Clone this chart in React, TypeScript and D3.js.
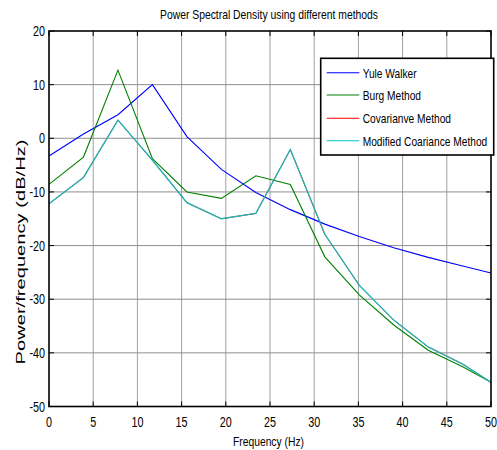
import React from "react";
import * as d3 from "d3";

const freqs = [0, 3.9, 7.8, 11.7, 15.6, 19.5, 23.4, 27.3, 31.2, 35.1, 39.0, 42.9, 46.8, 50];
const yuleWalker = [-3.3, 0.8, 4.4, 10.0, 0.3, -5.8, -10.1, -13.3, -16.0, -18.3, -20.4, -22.2, -23.8, -25.1];
const burg = [-8.6, -3.5, 12.7, -3.8, -10.0, -11.2, -7.0, -8.6, -22.1, -29.2, -34.8, -39.5, -42.6, -45.5];
const covariance = [-12.2, -7.3, 3.4, -4.1, -12.0, -15.0, -14.0, -2.1, -17.9, -27.4, -33.9, -38.9, -42.1, -45.5];
const modCovariance = [-12.2, -7.3, 3.4, -4.1, -12.0, -15.0, -14.0, -2.1, -17.9, -27.4, -33.9, -38.9, -42.1, -45.5];

const xTicks = [0, 5, 10, 15, 20, 25, 30, 35, 40, 45, 50];
const yTicks = [20, 10, 0, -10, -20, -30, -40, -50];
const legendLabels = ["Yule Walker", "Burg Method", "Covarianve Method", "Modified Coariance Method"];

const COLORS = ["#0000ff", "#008000", "#ff0000", "#1fb5b5"];

export default function App() {
  const W = 497, H = 450;
  const L = 49, R = 491, T = 31, B = 406.5;
  const x = d3.scaleLinear().domain([0, 50]).range([L, R]);
  const y = d3.scaleLinear().domain([-50, 20]).range([B, T]);
  const line = d3.line<number>().x((_, i) => x(freqs[i])).y((d) => y(d));
  const series = [yuleWalker, burg, covariance, modCovariance];
  const widths = [1.1, 1.1, 1.0, 1.3];
  const font = "'Liberation Sans', Arial, sans-serif";
  const sx = 0.77;

  return (
    <svg width={W} height={H} style={{ position: "absolute", left: 0, top: 0, background: "#fff" }}>
      <rect x={0} y={0} width={W} height={H} fill="#fff" />
      {/* grid */}
      {xTicks.slice(1, -1).map((t) => (
        <line key={"gx" + t} x1={x(t)} x2={x(t)} y1={T} y2={B} stroke="#a0a0a0" strokeWidth={1} />
      ))}
      {yTicks.slice(1, -1).map((t) => (
        <line key={"gy" + t} x1={L} x2={R} y1={y(t)} y2={y(t)} stroke="#909090" strokeWidth={1} />
      ))}
      {/* ticks */}
      {xTicks.map((t) => (
        <g key={"tx" + t}>
          <line x1={x(t)} x2={x(t)} y1={B} y2={B - 5} stroke="#000" />
          <line x1={x(t)} x2={x(t)} y1={T} y2={T + 5} stroke="#000" />
        </g>
      ))}
      {yTicks.map((t) => (
        <g key={"ty" + t}>
          <line x1={L} x2={L + 5} y1={y(t)} y2={y(t)} stroke="#000" />
          <line x1={R} x2={R - 5} y1={y(t)} y2={y(t)} stroke="#000" />
        </g>
      ))}
      {/* series */}
      {series.map((s, i) => (
        <path key={"s" + i} d={line(s) || ""} fill="none" stroke={COLORS[i]} strokeWidth={widths[i]} />
      ))}
      {/* frame */}
      <rect x={L} y={T} width={R - L} height={B - T} fill="none" stroke="#000" strokeWidth={1.6} />
      {/* tick labels */}
      {xTicks.map((t) => (
        <text key={"lx" + t} transform={`translate(${x(t)},427) scale(${sx},1)`} textAnchor="middle"
          fontFamily={font} fontSize={14} fill="#000">{t}</text>
      ))}
      {yTicks.map((t) => (
        <text key={"ly" + t} transform={`translate(45,${y(t) + 5}) scale(${sx},1)`} textAnchor="end"
          fontFamily={font} fontSize={14} fill="#000">{t}</text>
      ))}
      {/* title & axis labels */}
      <text x={269} y={19} textAnchor="middle" fontFamily={font} fontSize={13.5} textLength={218}
        lengthAdjust="spacingAndGlyphs" fill="#000">Power Spectral Density using different methods</text>
      <text x={268.5} y={446} textAnchor="middle" fontFamily={font} fontSize={13.5} textLength={71}
        lengthAdjust="spacingAndGlyphs" fill="#000">Frequency (Hz)</text>
      <text transform={`translate(25,252) scale(0.85,1) rotate(-90)`} textAnchor="middle" fontFamily={font}
        fontSize={14} textLength={225} lengthAdjust="spacingAndGlyphs" fill="#000">Power/frequency (dB/Hz)</text>
      {/* legend */}
      <g>
        <rect x={320.7} y={58.3} width={173} height={96.7} fill="#fff" stroke="#000" strokeWidth={1.6} />
        {legendLabels.map((lab, i) => {
          const yy = [72.7, 95, 118.3, 140.7][i];
          return (
            <g key={"lg" + i}>
              <line x1={326.7} x2={359.3} y1={yy} y2={yy} stroke={i === 3 ? "#00c8c8" : COLORS[i]} strokeWidth={1.1} />
              <text transform={`translate(362.7,${yy + 5}) scale(0.755,1)`} fontFamily={font} fontSize={13.5}
                fill="#000">{lab}</text>
            </g>
          );
        })}
      </g>
    </svg>
  );
}
